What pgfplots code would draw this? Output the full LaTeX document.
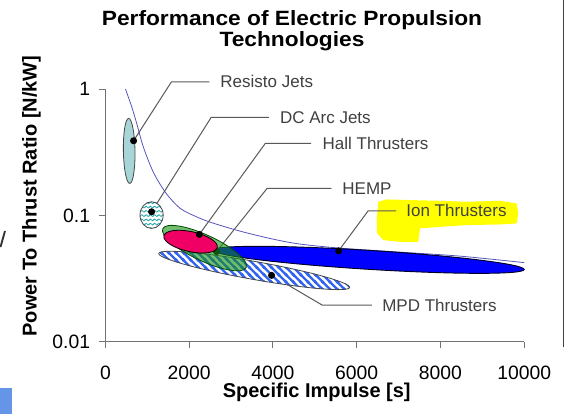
\documentclass[border=0pt]{standalone}
\usepackage{fontspec}
\setmainfont{Liberation Sans}
\newfontfamily\titlefont{Liberation Sans}[FakeStretch=1.1]
\usepackage{pgfplots}
\pgfplotsset{compat=1.18}
\usetikzlibrary{patterns}

\definecolor{resisto}{RGB}{168,214,216}
\definecolor{dcteal}{RGB}{40,165,170}
\definecolor{mpdblue}{RGB}{50,100,240}
\definecolor{ionblue}{RGB}{0,0,255}
\definecolor{hallpink}{RGB}{240,0,100}
\definecolor{hempgreen}{RGB}{20,145,20}
\definecolor{curvecol}{RGB}{85,85,190}
\definecolor{labelgray}{RGB}{64,64,64}
\definecolor{edgegray}{RGB}{70,70,70}
\definecolor{hilite}{RGB}{255,255,0}
\definecolor{cornflower}{RGB}{100,149,230}

\pgfdeclarepatternformonly{mpdlines}{\pgfqpoint{-1pt}{-1pt}}{\pgfqpoint{6.5pt}{6.5pt}}{\pgfqpoint{5.5pt}{5.5pt}}{%
  \pgfsetlinewidth{1.7pt}%
  \pgfpathmoveto{\pgfqpoint{-1pt}{6.5pt}}\pgfpathlineto{\pgfqpoint{6.5pt}{-1pt}}%
  \pgfpathmoveto{\pgfqpoint{-1pt}{1pt}}\pgfpathlineto{\pgfqpoint{1pt}{-1pt}}%
  \pgfpathmoveto{\pgfqpoint{4.5pt}{6.5pt}}\pgfpathlineto{\pgfqpoint{6.5pt}{4.5pt}}%
  \pgfusepath{stroke}}

\pgfdeclarepatternformonly{waves}{\pgfqpoint{-0.3pt}{0pt}}{\pgfqpoint{3.5pt}{3.2pt}}{\pgfqpoint{3.2pt}{3.2pt}}{%
  \pgfsetlinewidth{0.55pt}%
  \pgfpathmoveto{\pgfqpoint{-0.3pt}{1.2pt}}%
  \pgfpathlineto{\pgfqpoint{0pt}{1.6pt}}%
  \pgfpathcurveto{\pgfqpoint{0.53pt}{2.5pt}}{\pgfqpoint{1.07pt}{2.5pt}}{\pgfqpoint{1.6pt}{1.6pt}}%
  \pgfpathcurveto{\pgfqpoint{2.13pt}{0.7pt}}{\pgfqpoint{2.67pt}{0.7pt}}{\pgfqpoint{3.2pt}{1.6pt}}%
  \pgfpathlineto{\pgfqpoint{3.5pt}{2.0pt}}%
  \pgfusepath{stroke}}

% ellipse marks (semi-axes in pt, rotation in degrees)
\pgfdeclareplotmark{resistoE}{\pgfscope
  \pgfsetfillcolor{resisto}\pgfsetstrokecolor{edgegray}\pgfsetlinewidth{0.6pt}%
  \pgfpathellipse{\pgfpointorigin}{\pgfpointpolar{91}{24.4pt}}{\pgfpointpolar{1}{4.35pt}}%
  \pgfusepath{fill,stroke}\endpgfscope}
\pgfdeclareplotmark{dcE}{\pgfscope
  \pgfsetfillcolor{white}%
  \pgfpathellipse{\pgfpointorigin}{\pgfqpoint{8.7pt}{0pt}}{\pgfqpoint{0pt}{10pt}}\pgfusepath{fill}%
  \pgfsetfillpattern{waves}{dcteal}%
  \pgfpathellipse{\pgfpointorigin}{\pgfqpoint{8.7pt}{0pt}}{\pgfqpoint{0pt}{10pt}}\pgfusepath{fill}%
  \pgfsetstrokecolor{edgegray}\pgfsetlinewidth{0.6pt}%
  \pgfpathellipse{\pgfpointorigin}{\pgfqpoint{8.7pt}{0pt}}{\pgfqpoint{0pt}{10pt}}\pgfusepath{stroke}%
  \endpgfscope}
\pgfdeclareplotmark{mpdE}{\pgfscope
  \pgfsetfillcolor{white}%
  \pgfpathellipse{\pgfpointorigin}{\pgfpointpolar{-10.1}{72.7pt}}{\pgfpointpolar{79.9}{6.75pt}}\pgfusepath{fill}%
  \pgfsetfillpattern{mpdlines}{mpdblue}%
  \pgfpathellipse{\pgfpointorigin}{\pgfpointpolar{-10.1}{72.7pt}}{\pgfpointpolar{79.9}{6.75pt}}\pgfusepath{fill}%
  \pgfsetstrokecolor{edgegray}\pgfsetlinewidth{0.6pt}%
  \pgfpathellipse{\pgfpointorigin}{\pgfpointpolar{-10.1}{72.7pt}}{\pgfpointpolar{79.9}{6.75pt}}\pgfusepath{stroke}%
  \endpgfscope}
\pgfdeclareplotmark{ionE}{\pgfscope
  \pgfsetfillcolor{ionblue}\pgfsetstrokecolor{black!85!blue}\pgfsetlinewidth{0.7pt}%
  \pgfpathellipse{\pgfpointorigin}{\pgfpointpolar{-3.55}{117pt}}{\pgfpointpolar{86.45}{7.1pt}}%
  \pgfusepath{fill,stroke}\endpgfscope}
\pgfdeclareplotmark{hempE}{\pgfscope
  \pgfsetfillcolor{hempgreen}\pgfsetfillopacity{0.6}%
  \pgfsetstrokecolor{black!70!green}\pgfsetlinewidth{0.6pt}%
  \pgfpathellipse{\pgfpointorigin}{\pgfpointpolar{-25}{34.5pt}}{\pgfpointpolar{65}{9.75pt}}%
  \pgfusepath{fill,stroke}\endpgfscope}
\pgfdeclareplotmark{hallE}{\pgfscope
  \pgfsetfillcolor{hallpink}\pgfsetstrokecolor{black}\pgfsetlinewidth{0.6pt}%
  \pgfpathellipse{\pgfpointorigin}{\pgfpointpolar{-12.3}{20.5pt}}{\pgfpointpolar{77.7}{7.5pt}}%
  \pgfusepath{fill,stroke}\endpgfscope}

\newcommand\labelfont{\fontsize{12.75pt}{14pt}\selectfont}

\begin{document}
\begin{tikzpicture}
\begin{axis}[
  scale only axis, width=314.1pt, height=189.5pt,
  xmin=0, xmax=10000, ymin=0.01, ymax=1, ymode=log,
  axis lines*=left, clip=false,
  axis line style={draw=black!55, line width=0.8pt},
  tick style={draw=black!55, line width=0.8pt},
  tick align=outside, major tick length=4.5pt,
  xtick={0,2000,4000,6000,8000,10000},
  xticklabels={0,2000,4000,6000,8000,10000},
  ytick={0.01,0.1,1}, yticklabels={0.01,0.1,1},
  yminorticks=false, scaled x ticks=false,
  /pgf/number format/assume math mode=true,
  ticklabel style={font=\fontsize{14.5pt}{16pt}\selectfont, inner sep=1pt},
  xticklabel style={yshift=-12.3pt},
  yticklabel style={xshift=-5.8pt},
  title={Performance of Electric Propulsion\\Technologies},
  title style={at={(axis description cs:0.4456,1.2813)}, anchor=north, inner sep=0pt, align=center,
    font=\titlefont\bfseries\fontsize{15.5pt}{16.3pt}\selectfont},
  xlabel={Specific Impulse [s]},
  xlabel style={at={(axis description cs:0.5046,-0.2216)}, anchor=base, inner sep=0pt,
    font=\bfseries\fontsize{15pt}{17pt}\selectfont},
  ylabel={Power To Thrust Ratio [N/kW]},
  ylabel style={at={(axis description cs:-0.164,0.5766)}, anchor=base, inner sep=0pt,
    font=\bfseries\fontsize{15pt}{17pt}\selectfont},
]
% yellow highlight behind the Ion Thrusters label
\addplot[fill=hilite, draw=none] coordinates {
 (6516,0.1282) (6717,0.1338) (7273,0.1322) (7989,0.1305) (8627,0.1282) (9422,0.1305)
 (9821,0.1245) (9859,0.1037) (9821,0.0864) (9422,0.0848) (8627,0.0838) (7989,0.0812)
 (7512,0.0789) (7471,0.0618) (7034,0.0618) (6636,0.0637) (6492,0.0720) (6478,0.0918)} -- cycle;

% reference curve
\addplot[curvecol, line width=0.6pt, smooth, mark=none] coordinates {
 (480,1.0) (628,0.724) (747,0.535) (905,0.349) (1144,0.220) (1447,0.150) (1781,0.114)
 (2139,0.0987) (2498,0.0885) (3214,0.0751) (4002,0.0649) (4647,0.0593) (5602,0.0551)
 (7034,0.0512) (8467,0.0476) (10000,0.0423)};

% technology regions (centres)
\addplot[only marks, mark=resistoE] coordinates {(568,0.324)};
\addplot[only marks, mark=dcE] coordinates {(1103,0.1006)};
\addplot[only marks, mark=mpdE] coordinates {(3553,0.03667)};
\addplot[only marks, mark=ionE] coordinates {(6282,0.0445)};
\addplot[only marks, mark=*, mark size=2.4pt, black] coordinates {(2653,0.0517)};
\addplot[only marks, mark=hempE] coordinates {(2366,0.0551)};
\addplot[only marks, mark=hallE] coordinates {(2034,0.0620)};

% callout lines
\addplot[black!65, line width=0.75pt, mark=none] coordinates {(673,0.3898) (1578,1.142) (2483,1.142)};
\addplot[black!65, line width=0.75pt, mark=none] coordinates {(1103,0.1068) (2526,0.5970) (3906,0.5970)};
\addplot[black!65, line width=0.75pt, mark=none] coordinates {(2242,0.0707) (3818,0.3715) (4914,0.3715)};
\addplot[black!65, line width=0.75pt, mark=none] coordinates {(2653,0.0517) (3861,0.1636) (5396,0.1636)};
\addplot[black!65, line width=0.75pt, mark=none] coordinates {(5568,0.0524) (6275,0.1088) (6939,0.1088)};
\addplot[black!65, line width=0.75pt, mark=none] coordinates {(3968,0.03354) (5179,0.01949) (6361,0.01949)};

% dots
\addplot[only marks, mark=*, mark size=2.4pt, black] coordinates {
 (673,0.3898) (1103,0.1068) (2242,0.0707) (5568,0.0524) (3968,0.03354)};

% labels
\node[anchor=west, inner sep=0pt, font=\labelfont, text=labelgray] at (axis cs:2741,1.142) {Resisto Jets};
\node[anchor=west, inner sep=0pt, font=\labelfont, text=labelgray] at (axis cs:4164,0.5970) {DC Arc Jets};
\node[anchor=west, inner sep=0pt, font=\labelfont, text=labelgray] at (axis cs:5181,0.3715) {Hall Thrusters};
\node[anchor=west, inner sep=0pt, font=\labelfont, text=labelgray] at (axis cs:5654,0.1636) {HEMP};
\node[anchor=west, inner sep=0pt, font=\labelfont, text=labelgray] at (axis cs:7180,0.1088) {Ion Thrusters};
\node[anchor=west, inner sep=0pt, font=\labelfont, text=labelgray] at (axis cs:6605,0.01949) {MPD Thrusters};
\end{axis}
\pgfresetboundingbox
\path[use as bounding box] (-79.05pt,-54.2pt) rectangle (345.45pt,256.3pt);
\fill[cornflower] (-79.05pt,-54.2pt) rectangle (-70.05pt,-34.7pt);
\draw[black!75, line width=1.1pt] (343.6pt,256.3pt) -- (343.6pt,-4pt);
\draw[black!80, line width=1.4pt] (-78.7pt,71pt) -- (-75.3pt,83pt);
\end{tikzpicture}
\end{document}
